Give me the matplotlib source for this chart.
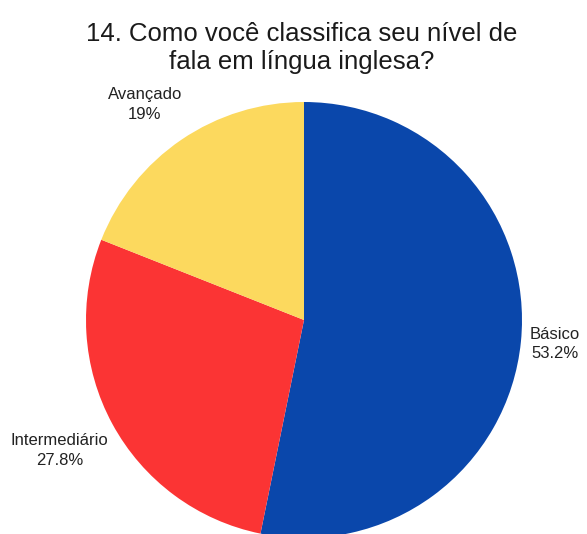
import matplotlib.pyplot as plt

plt.rcParams['font.family'] = ['Liberation Sans', 'DejaVu Sans']

categories = ['Básico', 'Intermediário', 'Avançado']
percentages = [53.2, 27.8, 19.0]
colors = ['#0a47ab', '#fb3434', '#fcd95e']

# label anchor points (data units, pie radius = 1)
label_pos = [(1.15, -0.11), (-1.12, -0.60), (-0.73, 0.99)]

fig = plt.figure(figsize=(5.87, 5.34), dpi=100)
fig.patch.set_facecolor('white')

ax = fig.add_axes([86 / 587, -4 / 534, 436 / 587, 436 / 534])
wedges, _ = ax.pie(percentages, colors=colors, startangle=90, counterclock=False,
                   radius=1, wedgeprops={'linewidth': 0})
ax.set_xlim(-1, 1)
ax.set_ylim(-1, 1)
ax.set_aspect('equal')
ax.axis('off')

for name, pct, (x, y) in zip(categories, percentages, label_pos):
    txt = f"{pct:g}%"
    ax.text(x, y, f"{name}\n{txt}", ha='center', va='center', fontsize=12,
            color='#222222', linespacing=1.4, clip_on=False)

fig.text(0.514, 0.91, "14. Como você classifica seu nível de\nfala em língua inglesa?",
         ha='center', va='center', fontsize=18.5, color='#1a1a1a', linespacing=1.22)

fig.savefig('out.png', dpi=100, facecolor='white')
